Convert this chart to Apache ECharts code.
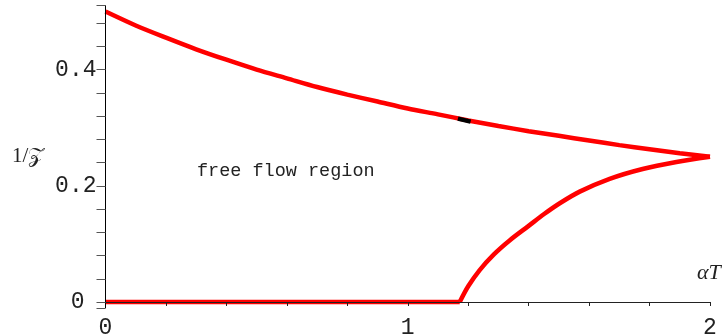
<!DOCTYPE html>
<html>
<head>
<meta charset="utf-8">
<script src="https://cdn.jsdelivr.net/npm/echarts@6/dist/echarts.min.js"></script>
<style>
  html, body { margin: 0; padding: 0; background: #fff; }
  #chart { width: 727px; height: 336px; }
</style>
</head>
<body>
<div id="chart"></div>
<script>
// Upper boundary of the free flow region: 1/Z against alpha*T
const upperX = [0, 0.1, 0.2, 0.3, 0.4, 0.5, 0.6, 0.7, 0.8, 0.9, 1.0, 1.1, 1.2, 1.3, 1.4, 1.5, 1.6, 1.7, 1.8, 1.9, 2.0];
const upperY = [0.500, 0.476, 0.455, 0.435, 0.417, 0.400, 0.385, 0.370, 0.357, 0.345, 0.333, 0.323, 0.3125, 0.303, 0.294, 0.286, 0.278, 0.270, 0.263, 0.256, 0.250];

// Lower boundary: zero up to the onset, then rising to meet the upper branch
const floorX = [0, 1.172];
const floorY = [0, 0];
const lowerX = [1.172, 1.20, 1.238, 1.285, 1.337, 1.40, 1.45, 1.503, 1.569, 1.668, 1.777, 1.889, 2.0];
const lowerY = [0, 0.027, 0.055, 0.082, 0.106, 0.131, 0.151, 0.170, 0.190, 0.212, 0.229, 0.241, 0.250];

// Short dark stretch on the upper branch
const markX = [1.166, 1.208];
const markY = [0.3157, 0.3105];

// Axis ticks and labels
const xTicks = [0.2, 0.4, 0.6, 0.8, 1.0, 1.2, 1.4, 1.6, 1.8, 2.0];
const xLabels = [0, 1, 2];
const yTicks = [-0.01, 0, 0.04, 0.08, 0.12, 0.16, 0.2, 0.24, 0.28, 0.32, 0.36, 0.4, 0.44, 0.48, 0.51];
const yLabels = [0, 0.2, 0.4];

const zip = (xs, ys) => xs.map((x, i) => [x, ys[i]]);
const MONO = 'Liberation Mono';
const SERIF = 'Liberation Serif';

const chart = echarts.init(document.getElementById('chart'), null, { renderer: 'canvas' });

const curve = (name, xs, ys, color, z) => ({
  name, type: 'line', data: zip(xs, ys), showSymbol: false,
  smooth: 0.3,
  lineStyle: { color, width: 4.5, cap: 'butt' }, z, animation: false
});

chart.setOption({
  animation: false,
  backgroundColor: '#ffffff',
  grid: { left: 105.5, right: 17, top: 5.7, bottom: 28.2, containLabel: false, outerBoundsMode: 'none' },
  xAxis: {
    type: 'value', min: 0, max: 2, z: 10,
    axisLine: { show: true, onZero: true, lineStyle: { color: '#222', width: 1 } },
    axisTick: { show: true, length: 4, customValues: xTicks, lineStyle: { color: '#222' } },
    axisLabel: {
      customValues: xLabels, fontFamily: MONO, fontSize: 23, color: '#222', margin: 9,
      formatter: v => String(Math.round(v))
    },
    splitLine: { show: false }
  },
  yAxis: {
    type: 'value', min: -0.01, max: 0.51, z: 10,
    axisLine: { show: true, onZero: false, lineStyle: { color: '#000', width: 1 } },
    axisTick: { show: true, length: 9, customValues: yTicks, lineStyle: { color: '#555' } },
    axisLabel: {
      customValues: yLabels, fontFamily: MONO, fontSize: 23, color: '#222', margin: 9,
      formatter: v => v === 0 ? '{z|0}' : v.toFixed(1),
      rich: { z: { fontFamily: MONO, fontSize: 23, color: '#222', padding: [0, 12, 0, 0] } }
    },
    splitLine: { show: false }
  },
  graphic: [
    {
      type: 'text', left: 12, top: 146,
      style: {
        text: '{n|1/}{s|𝒵}',
        rich: {
          n: { fontFamily: SERIF, fontSize: 21, fill: '#222' },
          s: { fontFamily: SERIF, fontSize: 21, fill: '#222' }
        }
      }
    },
    { type: 'text', left: 697, top: 262, style: { text: 'αT', font: 'italic 22px ' + SERIF, fill: '#222' } },
    { type: 'text', left: 197, top: 162, style: { text: 'free flow region', font: '18.5px ' + MONO, fill: '#222' } }
  ],
  series: [
    curve('upper', upperX, upperY, '#ff0000', 3),
    curve('floor', floorX, floorY, '#ff0000', 3),
    curve('lower', lowerX, lowerY, '#ff0000', 3),
    curve('mark', markX, markY, '#000000', 4)
  ]
});
</script>
</body>
</html>
